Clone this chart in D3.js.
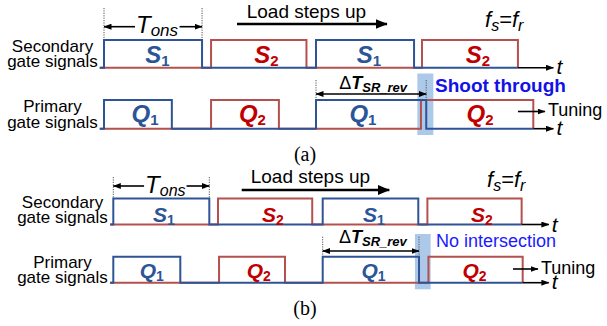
<!DOCTYPE html>
<html>
<head>
<meta charset="utf-8">
<script src="https://cdn.jsdelivr.net/npm/d3@7"></script>
<style>
  body { margin: 0; background: #fff; }
  svg { display: block; font-family: "Liberation Sans", Arial, sans-serif; }
</style>
</head>
<body>
<svg id="chart" width="607" height="326"></svg>
<script>
// Pulse edges [rise, fall], in half switching periods.
// (a) shoot-through case
const s1PulsesA = [[0, 0.925], [2.0, 2.925]];
const s2PulsesA = [[1.01, 1.91], [3.0, 3.905]];
const q1PulsesA = [[0, 0.64], [2.0, 3.04]];
const q2PulsesA = [[1.01, 1.65], [2.99, 4.05]];
const axisSpanA = [-0.04, 4.24];
const overlapA = [2.956, 3.107];

// (b) no-intersection case
const s1PulsesB = [[0, 0.917], [2.0, 2.913]];
const s2PulsesB = [[1.0, 1.90], [3.0, 3.90]];
const q1PulsesB = [[0, 0.64], [2.0, 2.92]];
const q2PulsesB = [[1.01, 1.64], [3.01, 3.91]];
const axisSpanB = [-0.03, 4.16];
const overlapB = [2.881, 3.031];

// Pulse names and where each name sits along the time axis
const secondaryNames = [["S", "1"], ["S", "2"], ["S", "1"], ["S", "2"]];
const primaryNames = [["Q", "1"], ["Q", "2"], ["Q", "1"], ["Q", "2"]];
const secondaryLabelAtA = [0.505, 1.533, 2.50, 3.528];
const primaryLabelAtA = [0.387, 1.40, 2.443, 3.547];
const secondaryLabelAtB = [0.484, 1.525, 2.49, 3.52];
const primaryLabelAtB = [0.367, 1.39, 2.485, 3.45];

const BLUE = "#2f5496", RED = "#b4504d";
const BLUE_TXT = "#2b5597", RED_TXT = "#c00000";

const svg = d3.select("#chart");
const defs = svg.append("defs");
function marker(id, len, wid) {
  defs.append("marker").attr("id", id)
    .attr("markerUnits", "userSpaceOnUse")
    .attr("markerWidth", len).attr("markerHeight", wid)
    .attr("viewBox", `0 0 ${len} ${wid}`)
    .attr("refX", len - 0.5).attr("refY", wid / 2)
    .attr("orient", "auto-start-reverse")
    .append("path").attr("d", `M0,0L${len},${wid / 2}L0,${wid}Z`).attr("fill", "#000");
}
marker("headBig", 12, 10);
marker("headSmall", 8, 6);

function wavePath(pulses, x, yHi, yLo, start, end) {
  const p = d3.path();
  p.moveTo(x(start), yLo);
  pulses.forEach(([r, f]) => {
    p.lineTo(x(r), yLo); p.lineTo(x(r), yHi);
    p.lineTo(x(f), yHi); p.lineTo(x(f), yLo);
  });
  p.lineTo(x(end), yLo);
  return p.toString();
}

function arrow(g, x1, y1, x2, y2, head, width, both) {
  const l = g.append("line")
    .attr("x1", x1).attr("y1", y1).attr("x2", x2).attr("y2", y2)
    .attr("stroke", "#000").attr("stroke-width", width)
    .attr("marker-end", `url(#${head})`);
  if (both) l.attr("marker-start", `url(#${head})`);
  return l;
}

function dotted(g, xv, y1, y2) {
  g.append("line").attr("x1", xv).attr("x2", xv).attr("y1", y1).attr("y2", y2)
    .attr("stroke", "#555").attr("stroke-width", 1).attr("stroke-dasharray", "1.2,1.2");
}

function pulseLabel(g, xv, y, name, color, size, subSize) {
  const t = g.append("text").attr("x", xv).attr("y", y)
    .attr("text-anchor", "middle").attr("fill", color).attr("font-weight", "bold");
  t.append("tspan").text(name[0]).attr("font-size", size).attr("font-style", "italic");
  t.append("tspan").text(name[1]).attr("font-size", subSize).attr("dy", 3);
}

function drawPanel(c) {
  const g = svg.append("g");
  const x = d3.scaleLinear().domain([0, 1]).range(c.xRange);

  // highlighted transition window
  g.append("rect")
    .attr("x", x(c.overlap[0])).attr("width", x(c.overlap[1]) - x(c.overlap[0]))
    .attr("y", c.shadeY[0]).attr("height", c.shadeY[1] - c.shadeY[0])
    .attr("fill", "#9fbfe6").attr("opacity", 0.85);

  // row titles
  const rowTitle = (lines, ys) => lines.forEach((s, i) =>
    g.append("text").attr("x", c.titleX).attr("y", ys[i]).attr("text-anchor", "middle")
      .attr("font-size", 17).attr("fill", "#000").text(s));
  rowTitle(["Secondary", "gate signals"], c.secTitleY);
  rowTitle(["Primary", "gate signals"], c.priTitleY);

  const rows = [
    { a: c.s1, b: c.s2, hi: c.sHi, lo: c.sLo, names: secondaryNames, at: c.sLabelAt, ly: c.sLabelY, tY: c.sTY },
    { a: c.q1, b: c.q2, hi: c.qHi, lo: c.qLo, names: primaryNames, at: c.qLabelAt, ly: c.qLabelY, tY: c.qTY }
  ];
  rows.forEach(r => {
    const lastFall = d3.max(r.a.concat(r.b), d => d[1]);
    g.append("path").attr("d", wavePath(r.b, x, r.hi, r.lo, c.axis[0], lastFall))
      .attr("fill", "none").attr("stroke", RED).attr("stroke-width", 2);
    g.append("path").attr("d", wavePath(r.a, x, r.hi, r.lo, c.axis[0], lastFall))
      .attr("fill", "none").attr("stroke", BLUE).attr("stroke-width", 2);
    arrow(g, x(lastFall), r.lo, x(c.axis[1]), r.lo, "headSmall", 1.6);
    g.append("text").attr("x", x(c.axis[1]) + 3).attr("y", r.tY)
      .attr("font-size", 21).attr("font-style", "italic").text("t");
    r.names.forEach((n, i) => pulseLabel(g, x(r.at[i]), r.ly, n,
      n[1] === "1" ? BLUE_TXT : RED_TXT, c.nameSize, c.subSize));
  });

  // T_ons span over the first S1 pulse
  const on0 = x(c.s1[0][0]), on1 = x(c.s1[0][1]);
  dotted(g, on0, c.tonsTop, c.sHi);
  dotted(g, on1, c.tonsTop, c.sHi);
  const tons = g.append("text").attr("x", (on0 + on1) / 2 + 4).attr("y", c.tonsY)
    .attr("text-anchor", "middle").attr("font-style", "italic");
  tons.append("tspan").text("T").attr("font-size", 24);
  tons.append("tspan").text("ons").attr("font-size", c.onsSize).attr("dy", 3);
  const tb = tons.node().getBBox();
  arrow(g, tb.x - 1, c.tonsArrowY, on0, c.tonsArrowY, "headSmall", 1.6);
  arrow(g, tb.x + tb.width + 1, c.tonsArrowY, on1, c.tonsArrowY, "headSmall", 1.6);

  // ΔT_SR_rev span over the second Q1 pulse
  const d0 = x(c.q1[1][0]), d1 = x(c.q1[1][1]);
  dotted(g, d0, c.dTop, c.qHi);
  dotted(g, d1, c.dTop, c.qHi);
  arrow(g, d0, c.dArrowY, d1, c.dArrowY, "headSmall", 1.6, true);
  const dt = g.append("text").attr("x", (d0 + d1) / 2 + 2).attr("y", c.dTextY)
    .attr("text-anchor", "middle");
  dt.append("tspan").text("Δ").attr("font-size", 18);
  dt.append("tspan").text("T").attr("font-size", 18).attr("font-weight", "bold").attr("font-style", "italic");
  dt.append("tspan").text("SR_rev").attr("font-size", 13).attr("font-weight", "bold")
    .attr("font-style", "italic").attr("dy", 3);

  // load step annotation
  g.append("text").attr("x", c.loadX).attr("y", c.loadY).attr("font-size", 19).text("Load steps up");
  arrow(g, c.loadArrow[0], c.loadArrowY, c.loadArrow[1], c.loadArrowY, "headBig", 2.6);

  // f_s = f_r
  const f = g.append("text").attr("x", c.fX).attr("y", c.fY).attr("font-size", 22);
  f.append("tspan").text("f").attr("font-style", "italic");
  f.append("tspan").text("s").attr("font-style", "italic").attr("font-size", 16).attr("dy", 4);
  f.append("tspan").text("=").attr("dy", -4);
  f.append("tspan").text("f").attr("font-style", "italic");
  f.append("tspan").text("r").attr("font-style", "italic").attr("font-size", 16).attr("dy", 4);

  // transition note
  g.append("text").attr("x", c.noteX).attr("y", c.noteY)
    .attr("font-size", c.noteSize).attr("font-weight", c.noteWeight)
    .attr("fill", c.noteColor).text(c.note);

  // tuning direction
  arrow(g, c.tuneArrow[0], c.tuneY, c.tuneArrow[1], c.tuneY, "headSmall", 1.6);
  g.append("text").attr("x", c.tuneArrow[1] + 3).attr("y", c.tuneY + 4.5)
    .attr("font-size", 18).text("Tuning");

  // caption
  g.append("text").attr("x", 305).attr("y", c.capY).attr("text-anchor", "middle")
    .attr("font-family", "'Liberation Serif', 'Times New Roman', serif")
    .attr("font-size", 20).text(c.caption);
}

drawPanel({
  xRange: [104, 210], axis: axisSpanA, overlap: overlapA, shadeY: [73.5, 135],
  s1: s1PulsesA, s2: s2PulsesA, q1: q1PulsesA, q2: q2PulsesA,
  sHi: 40, sLo: 67.7, qHi: 100, qLo: 128.7,
  sLabelAt: secondaryLabelAtA, qLabelAt: primaryLabelAtA,
  sLabelY: 63, qLabelY: 121.7, nameSize: 24, subSize: 15,
  sTY: 74, qTY: 135,
  titleX: 52.5, secTitleY: [52, 67], priTitleY: [112, 128],
  tonsTop: 8, tonsY: 33, tonsArrowY: 26.7, onsSize: 17,
  dTop: 80, dArrowY: 94, dTextY: 89,
  loadX: 246.7, loadY: 18, loadArrow: [237, 387], loadArrowY: 24,
  fX: 485, fY: 27,
  note: "Shoot through", noteX: 435, noteY: 92, noteSize: 19, noteWeight: "bold", noteColor: "#1212e6",
  tuneArrow: [518, 545], tuneY: 111.5,
  capY: 161, caption: "(a)"
});

drawPanel({
  xRange: [113.3, 218], axis: axisSpanB, overlap: overlapB, shadeY: [234, 289.3],
  s1: s1PulsesB, s2: s2PulsesB, q1: q1PulsesB, q2: q2PulsesB,
  sLabelAt: secondaryLabelAtB, qLabelAt: primaryLabelAtB,
  sHi: 198.5, sLo: 224.5, qHi: 256.7, qLo: 282.7,
  sLabelY: 221.7, qLabelY: 278.3, nameSize: 21, subSize: 14,
  sTY: 231.5, qTY: 289,
  titleX: 62.5, secTitleY: [208.3, 223], priTitleY: [268.3, 283],
  tonsTop: 177, tonsY: 193.3, tonsArrowY: 186, onsSize: 16,
  dTop: 236.7, dArrowY: 251, dTextY: 243,
  loadX: 250.7, loadY: 182.7, loadArrow: [241.7, 389.3], loadArrowY: 190,
  fX: 487, fY: 186.7,
  note: "No intersection", noteX: 436, noteY: 247.3, noteSize: 18, noteWeight: "normal", noteColor: "#1a1aff",
  tuneArrow: [513, 538], tuneY: 269,
  capY: 315, caption: "(b)"
});
</script>
</body>
</html>
